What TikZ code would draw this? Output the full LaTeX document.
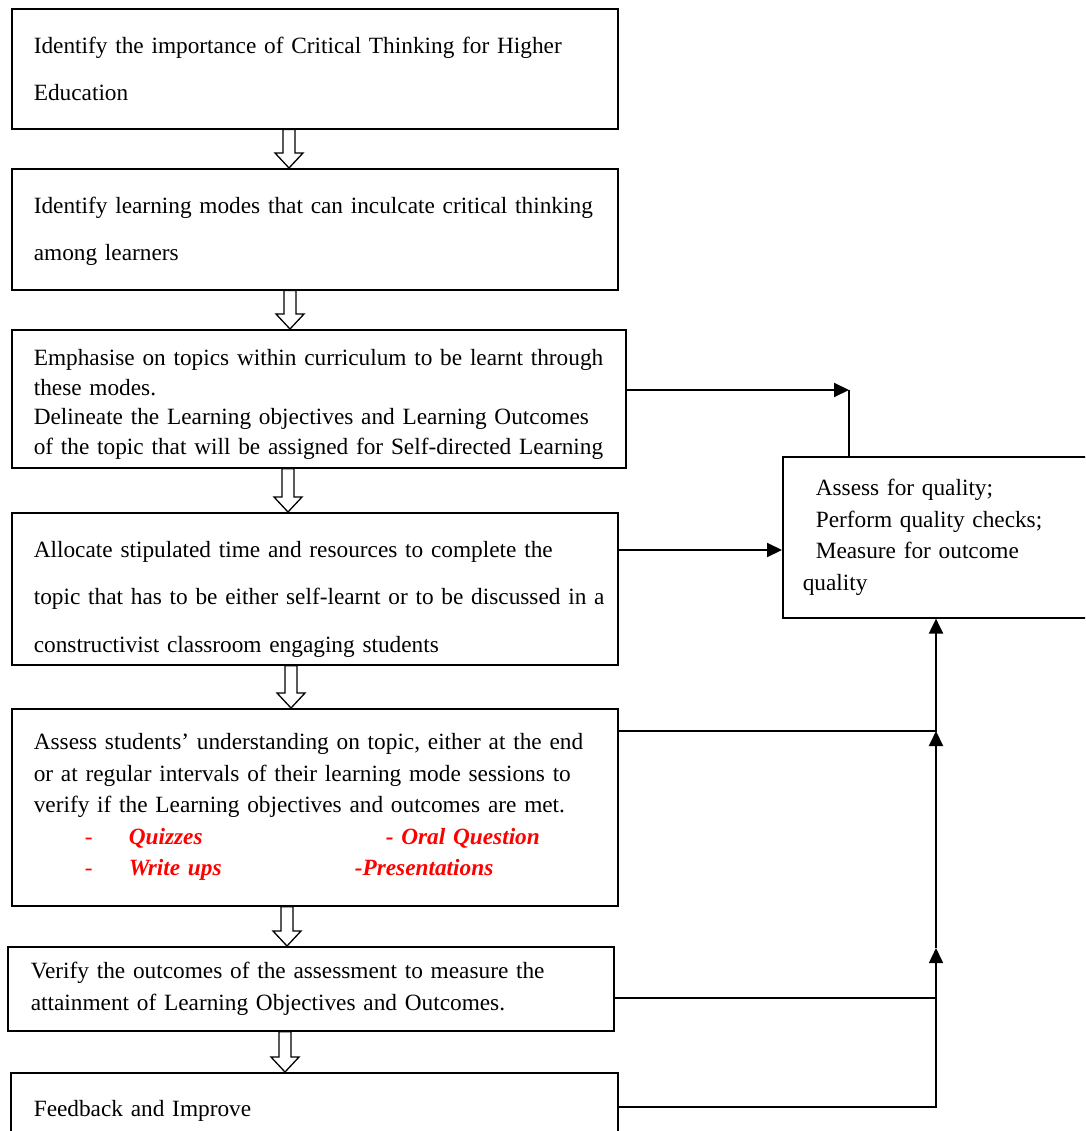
\documentclass[tikz,border=0pt]{standalone}
\usepackage{fontspec}
\setmainfont{Liberation Serif}
\usetikzlibrary{arrows.meta,calc,positioning}

\newcommand{\assessitem}[1]{\textcolor{red}{\textbf{\textit{#1}}}}
% hollow block arrow: x, upper node, lower node
\newcommand{\flowdown}[3]{%
  \draw[hollow] let \p1=(#2.south), \p2=(#3.north) in
    (#1pt-6pt,\y1) -- (#1pt-6pt,\y2+15pt) -- (#1pt-14pt,\y2+15pt) -- (#1pt,\y2)
    -- (#1pt+14pt,\y2+15pt) -- (#1pt+6pt,\y2+15pt) -- (#1pt+6pt,\y1) -- cycle;}

\begin{document}
\begin{tikzpicture}[x=1pt,y=-1pt,
  stepbox/.style={draw, line width=1.6pt, rectangle, anchor=north west, align=left,
    inner xsep=22pt, inner ysep=0pt, font=\fontsize{23.3}{31.5}\selectfont,
    execute at begin node={\rightskip=0pt plus 1fil minus 60pt\relax}},
  wide/.style={font=\fontsize{23.3}{47.5}\selectfont},
  hollow/.style={draw, line width=1.3pt, fill=white, line join=miter},
  conn/.style={line width=2pt, -{Triangle[length=15pt,width=14pt]}},
  thinline/.style={line width=1.4pt}
]
\useasboundingbox (0,0) rectangle (1085,1131);
\clip (0,0) rectangle (1085,1131);

\node[stepbox, wide, text width=562pt, minimum height=120pt] (importance) at (11,8)
  {Identify the importance of Critical Thinking for Higher\\ Education};
\node[stepbox, wide, text width=562pt, minimum height=121pt] (modes) at (11,168)
  {\rule{0pt}{20pt}Identify learning modes that can inculcate critical thinking\\ among learners};
\node[stepbox, text width=570pt, minimum height=138pt, font=\fontsize{23.3}{29.5}\selectfont] (topics) at (11,329)
  {\rule{0pt}{27pt}Emphasise on topics within curriculum to be learnt through\\ these modes.\\
   Delineate the Learning objectives and Learning Outcomes\\
   of the topic that will be assigned for Self-directed Learning};
\node[stepbox, wide, text width=562pt, minimum height=152pt] (allocate) at (11,512)
  {\rule{0pt}{37pt}Allocate stipulated time and resources to complete the\\
   topic that has to be either self-learnt or to be discussed in a\\
   constructivist classroom engaging students};
\node[stepbox, text width=562pt, minimum height=197pt] (assess) at (11,708)
  {Assess students’ understanding on topic, either at the end\\
   or at regular intervals of their learning mode sessions to\\
   verify if the Learning objectives and outcomes are met.\\
   \hspace*{51pt}\makebox[44pt][l]{\textcolor{red}{-}}\makebox[257pt][l]{\assessitem{Quizzes}}\assessitem{- Oral Question}\\
   \hspace*{51pt}\makebox[44pt][l]{\textcolor{red}{-}}\makebox[226pt][l]{\assessitem{Write ups}}\assessitem{-Presentations}};
\node[stepbox, inner xsep=23pt, text width=560pt, minimum height=84pt] (verify) at (7,946)
  {Verify the outcomes of the assessment to measure the\\
   attainment of Learning Objectives and Outcomes.};
\node[stepbox, inner xsep=23pt, text width=561pt, minimum height=76pt] (feedback) at (10,1072)
  {Feedback and Improve};
\node[stepbox, inner xsep=20pt, text width=320pt, minimum height=161pt] (quality) at (782,456)
  {\hspace*{13pt}Assess for quality;\\ \hspace*{13pt}Perform quality checks;\\
   \hspace*{13pt}Measure for outcome\\ quality};

% hollow arrows down the chain
\flowdown{289}{importance}{modes}
\flowdown{290}{modes}{topics}
\flowdown{288}{topics}{allocate}
\flowdown{291}{allocate}{assess}
\flowdown{287}{assess}{verify}
\flowdown{285}{verify}{feedback}

% links to the quality box
\coordinate (c1) at (849,390);
\coordinate (c2) at (700,550);
\coordinate (c3) at (936,731);
\coordinate (c4) at (936,948);
\coordinate (c5) at (936,998);
\coordinate (c6) at (936,1107);
\draw[conn] (topics.east |- c1) -- (c1);
\draw[line width=2pt] (c1) -- (c1 |- quality.north);
\draw[conn] (allocate.east |- c2) -- (quality.west |- c2);
\draw[conn] (assess.east |- c3) -- (c3) -- (quality.south -| c3);
\draw[conn] (c4) -- (c3);
\draw[thinline] (verify.east |- c5) -- (c5);
\draw[conn, line width=1.6pt] (feedback.east |- c6) -- (c6) -- (c4);
\end{tikzpicture}
\end{document}
